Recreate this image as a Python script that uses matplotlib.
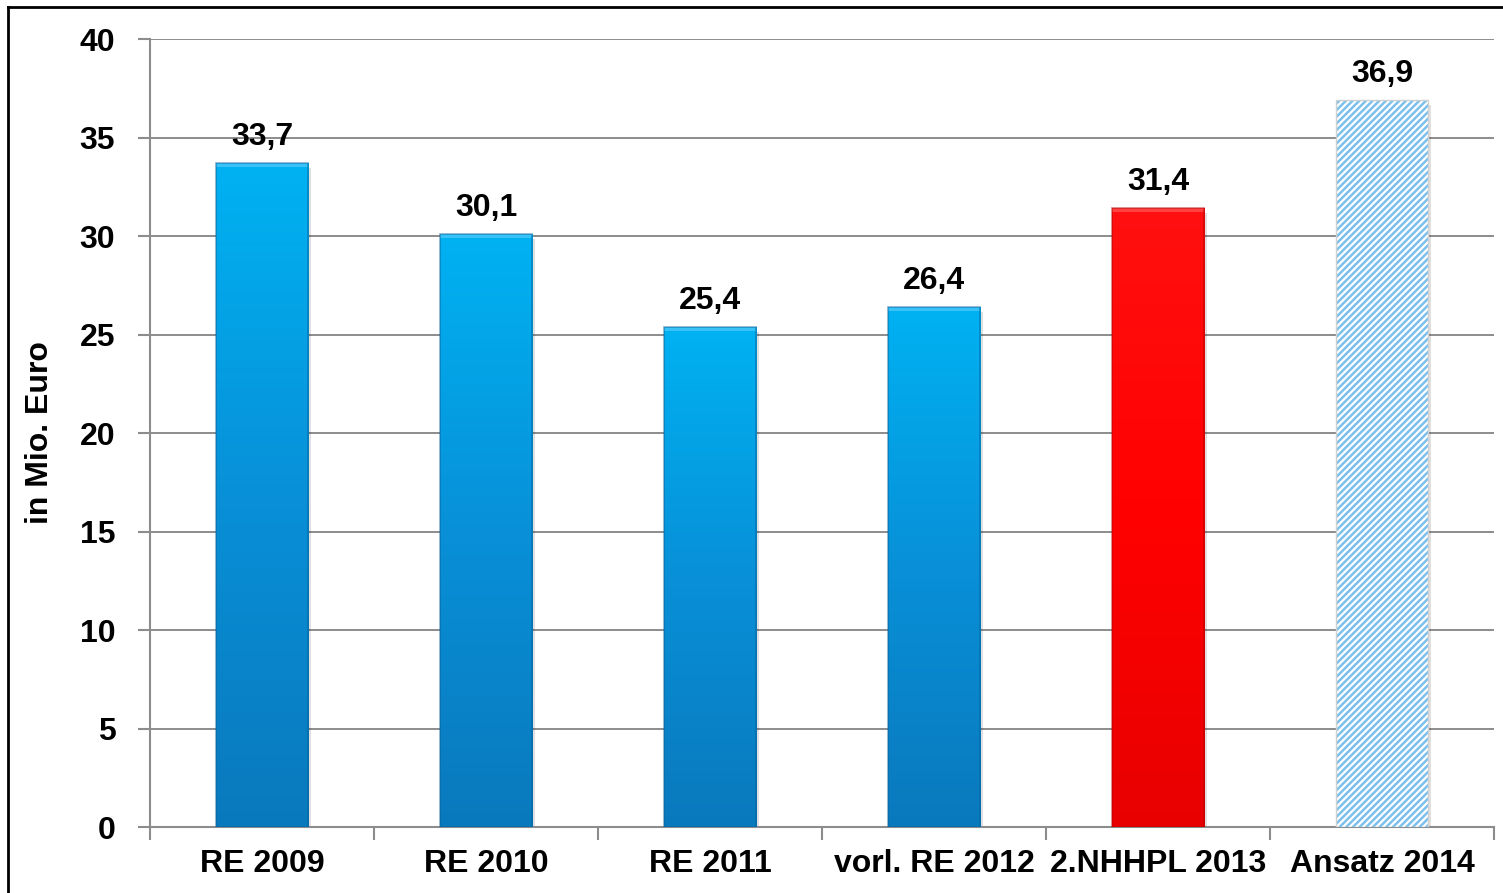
import matplotlib
matplotlib.use("Agg")
import matplotlib.pyplot as plt
import numpy as np
from matplotlib.colors import LinearSegmentedColormap
from matplotlib.patches import Rectangle
from matplotlib.lines import Line2D

categories = ["RE 2009", "RE 2010", "RE 2011", "vorl. RE 2012", "2.NHHPL 2013", "Ansatz 2014"]
values = [33.7, 30.1, 25.4, 26.4, 31.4, 36.9]
labels = ["33,7", "30,1", "25,4", "26,4", "31,4", "36,9"]
styles = ["blue", "blue", "blue", "blue", "red", "hatch"]
yticks = [0, 5, 10, 15, 20, 25, 30, 35, 40]

plt.rcParams['font.family'] = ['Liberation Sans', 'DejaVu Sans']
plt.rcParams['font.weight'] = 'bold'
plt.rcParams['hatch.linewidth'] = 1.8

fig = plt.figure(figsize=(15.03, 8.93), dpi=100)
ax = fig.add_axes([0.0998, 0.0739, 0.8942, 0.8824])

blue_cmap = LinearSegmentedColormap.from_list("b", ["#0A79BD", "#0890D8", "#00B2F2"])
red_cmap = LinearSegmentedColormap.from_list("r", ["#E80000", "#FF0000", "#FF1010"])
grad = np.linspace(0, 1, 256).reshape(-1, 1)

width = 0.415
x = np.arange(len(categories))

ax.set_xlim(-0.5, len(categories) - 0.5)
ax.set_ylim(0, 40)
ax.set_yticks(yticks)
ax.yaxis.grid(True, color="#8c8c8c", linewidth=1.4)
ax.set_axisbelow(True)

for i, (v, st) in enumerate(zip(values, styles)):
    x0 = x[i] - width / 2
    # soft shadow
    ax.add_patch(Rectangle((x0 + 0.012, -0.25), width, v, facecolor="#000000",
                           alpha=0.12, edgecolor="none", zorder=2))
    if st == "hatch":
        ax.bar(x[i], v, width, color="white", edgecolor="#7CC0EC", hatch="/////",
               linewidth=0, zorder=3)
        ax.add_patch(Rectangle((x0, 0), width, v, facecolor="none",
                               edgecolor="#d0d0d0", linewidth=1, zorder=4))
    else:
        cmap = blue_cmap if st == "blue" else red_cmap
        bar = ax.bar(x[i], v, width, color="none", edgecolor="none", zorder=3)
        im = ax.imshow(grad, cmap=cmap, aspect="auto", origin="lower",
                       extent=[x0, x0 + width, 0, v], zorder=3)
        im.set_clip_path(bar[0])
        # bevel highlights / edges
        light = "#7FD8FF" if st == "blue" else "#FF8080"
        dark = "#075E96" if st == "blue" else "#B00000"
        ax.add_patch(Rectangle((x0, v - 0.2), width, 0.2, facecolor=light,
                               edgecolor="none", alpha=0.45, zorder=4))
        ax.add_patch(Rectangle((x0, 0), width, v, facecolor="none",
                               edgecolor=dark, linewidth=1.2, alpha=0.5, zorder=4))
    ax.annotate(labels[i], (x[i], v), xytext=(0, 8), textcoords="offset points",
                ha="center", va="bottom", fontsize=23, fontweight="bold")

ax.set_xticks(np.arange(-0.5, len(categories), 1.0))
ax.set_xticklabels([])
ax.set_xticks(x, minor=True)
ax.set_xticklabels(categories, minor=True, fontsize=23, fontweight="bold")
ax.tick_params(axis="x", which="minor", length=0, pad=16)
ax.tick_params(axis="x", which="major", length=9, width=1.5, color="#8c8c8c", direction="out")
ax.tick_params(axis="y", length=9, width=1.5, color="#8c8c8c", labelsize=23, pad=16)
for t in ax.get_yticklabels():
    t.set_fontweight("bold")

for s in ["top", "right"]:
    ax.spines[s].set_visible(False)
for s in ["left", "bottom"]:
    ax.spines[s].set_color("#8c8c8c")
    ax.spines[s].set_linewidth(1.5)

ax.set_ylabel("in Mio. Euro", fontsize=23, fontweight="bold", labelpad=18)

# outer frame
fig.add_artist(Line2D([8 / 1503, 8 / 1503], [0, 1 - 7 / 893], color="black",
                      linewidth=2, transform=fig.transFigure))
fig.add_artist(Line2D([8 / 1503, 1], [1 - 7 / 893, 1 - 7 / 893], color="black",
                      linewidth=2, transform=fig.transFigure))

fig.savefig("out.png", dpi=100)
